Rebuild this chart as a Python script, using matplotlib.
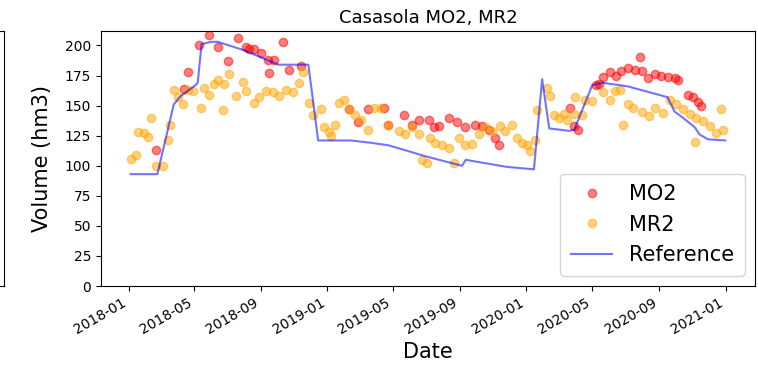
import matplotlib
matplotlib.use("Agg")
import matplotlib.pyplot as plt
import matplotlib.dates as mdates
import pandas as pd

# Reference volume (hm3)
ref_dates = ["2018-01-05", "2018-02-23", "2018-03-25", "2018-04-07", "2018-05-04", "2018-05-08",
             "2018-05-15", "2018-06-01", "2018-06-14", "2018-08-01", "2018-10-03", "2018-11-27",
             "2018-12-15", "2019-02-14", "2019-03-23", "2019-04-23", "2019-05-23", "2019-06-29",
             "2019-07-24", "2019-09-05", "2019-09-12", "2019-09-23", "2019-11-27", "2020-01-15",
             "2020-01-30", "2020-02-12", "2020-03-20", "2020-03-29", "2020-05-01", "2020-05-20",
             "2020-07-05", "2020-09-16", "2020-09-29", "2020-10-14", "2020-11-05", "2020-11-14",
             "2020-11-29", "2020-12-31"]
ref_vals = [93, 93, 151, 158, 167, 169,
            201, 203, 203, 196, 184, 184,
            121, 121, 119, 117, 113, 108,
            105, 100, 105, 104, 99, 97,
            172, 131, 129, 130, 167, 169,
            166, 157, 145, 140, 132, 126,
            122, 121]

# MO2 estimates
mo2_dates = ["2018-02-20", "2018-04-12", "2018-04-21", "2018-05-10", "2018-05-28", "2018-06-14",
             "2018-07-02", "2018-07-21", "2018-08-05", "2018-08-10", "2018-08-19", "2018-09-01",
             "2018-09-14", "2018-09-16", "2018-09-25", "2018-10-12", "2018-10-23", "2018-11-14",
             "2019-02-09", "2019-02-27", "2019-03-17", "2019-04-14", "2019-04-23", "2019-05-21",
             "2019-06-05", "2019-06-18", "2019-07-06", "2019-07-15", "2019-07-24", "2019-08-12",
             "2019-08-27", "2019-09-10", "2019-09-29", "2019-10-12", "2019-10-24", "2019-11-05",
             "2019-11-12",
             "2020-03-22", "2020-03-29", "2020-04-04", "2020-05-07", "2020-05-14", "2020-05-20",
             "2020-06-02", "2020-06-13", "2020-06-22", "2020-07-05", "2020-07-18", "2020-07-27",
             "2020-08-01", "2020-08-11", "2020-08-24", "2020-09-04", "2020-09-17", "2020-09-29",
             "2020-10-05", "2020-10-23", "2020-11-01", "2020-11-11", "2020-11-16"]
mo2_vals = [113, 164, 178, 200, 209, 199,
            187, 206, 199, 197, 197, 194,
            188, 177, 188, 203, 180, 183,
            147, 136, 147, 148, 134, 142,
            134, 138, 138, 132, 133, 140,
            136, 132, 134, 133, 130, 123,
            117,
            148, 133, 130, 167, 168, 174,
            178, 175, 179, 181, 180, 190,
            179, 173, 176, 175, 174, 173,
            171, 159, 157, 153, 150]

# MR2 estimates
mr2_dates = ["2018-01-05", "2018-01-14", "2018-01-19", "2018-01-29", "2018-02-05", "2018-02-11",
             "2018-02-20", "2018-03-06", "2018-03-14", "2018-03-19", "2018-03-25", "2018-04-01",
             "2018-04-11", "2018-04-20", "2018-04-29", "2018-05-14", "2018-05-19", "2018-05-28",
             "2018-06-07", "2018-06-14", "2018-06-23", "2018-06-25", "2018-07-04", "2018-07-17",
             "2018-07-30", "2018-08-05", "2018-08-19", "2018-08-29", "2018-09-10", "2018-09-23",
             "2018-10-04", "2018-10-17", "2018-10-30", "2018-11-10", "2018-11-18", "2018-11-29",
             "2018-12-06", "2018-12-21", "2018-12-26", "2019-01-03", "2019-01-08", "2019-01-14",
             "2019-01-23", "2019-02-01", "2019-02-10", "2019-02-20", "2019-03-04", "2019-03-17",
             "2019-03-28", "2019-04-10", "2019-04-23", "2019-05-12", "2019-05-23", "2019-06-05",
             "2019-06-18", "2019-06-23", "2019-07-02", "2019-07-08", "2019-07-17", "2019-07-30",
             "2019-08-12", "2019-08-21", "2019-08-30", "2019-09-10", "2019-09-23", "2019-10-06",
             "2019-10-17", "2019-10-30", "2019-11-14", "2019-11-23", "2019-12-06", "2019-12-15",
             "2019-12-24", "2020-01-03", "2020-01-08", "2020-01-17", "2020-01-21", "2020-02-08",
             "2020-02-14", "2020-02-21", "2020-03-01", "2020-03-11", "2020-03-16", "2020-03-29",
             "2020-03-30", "2020-04-13", "2020-04-17", "2020-05-01", "2020-05-20", "2020-06-02",
             "2020-06-11", "2020-06-20", "2020-06-26", "2020-07-05", "2020-07-14", "2020-08-01",
             "2020-08-14", "2020-08-25", "2020-09-07", "2020-09-20", "2020-10-01", "2020-10-14",
             "2020-10-27", "2020-11-05", "2020-11-07", "2020-11-20", "2020-12-03", "2020-12-14",
             "2020-12-23", "2020-12-27"]
mr2_vals = [106, 109, 128, 127, 124, 140,
            100, 100, 121, 134, 163, 157,
            151, 163, 162, 148, 165, 159,
            168, 171, 146, 168, 176, 158,
            170, 162, 152, 157, 162, 161,
            158, 163, 161, 169, 178, 152,
            142, 147, 132, 128, 125, 134,
            152, 155, 147, 142, 138, 130,
            148, 148, 134, 129, 126, 132,
            126, 105, 102, 123, 119, 117,
            115, 102, 123, 117, 118, 126,
            132, 129, 133, 129, 134, 123,
            119, 117, 112, 121, 146, 165,
            158, 142, 140, 143, 138, 143,
            157, 142, 155, 154, 161, 155,
            162, 163, 134, 151, 148, 145,
            141, 148, 144, 155, 151, 147,
            143, 120, 140, 137, 133, 127,
            147, 130]

ref_t = pd.to_datetime(ref_dates)
mo2_t = pd.to_datetime(mo2_dates)
mr2_t = pd.to_datetime(mr2_dates)

fig = plt.figure(figsize=(7.58, 3.75), dpi=100)

# right edge of the neighbouring subplot, cut off at the left
ax0 = fig.add_axes([-0.3, 0.2373, 0.3053, 0.68])
ax0.set_xticks([])
ax0.set_yticks([])

ax = fig.add_axes([0.1332, 0.2373, 0.8628, 0.68])
ax.plot(mo2_t, mo2_vals, 'o', color='red', alpha=0.5, label='MO2')
ax.plot(mr2_t, mr2_vals, 'o', color='orange', alpha=0.5, label='MR2')
ax.plot(ref_t, ref_vals, '-', color='blue', alpha=0.55, label='Reference')

ax.set_ylim(0, 212)
ax.xaxis.set_major_locator(mdates.MonthLocator(bymonth=[1, 5, 9]))
ax.xaxis.set_major_formatter(mdates.DateFormatter('%Y-%m'))
plt.setp(ax.get_xticklabels(), rotation=30, ha='right')
ax.tick_params(labelsize=10)

ax.set_title('Casasola MO2, MR2', fontsize=13)
ax.set_xlabel('Date', fontsize=15)
ax.set_ylabel('Volume (hm3)', fontsize=15, labelpad=9)
ax.legend(loc='lower right', fontsize=15, borderpad=0.5)

fig.savefig('out.png', dpi=100)
